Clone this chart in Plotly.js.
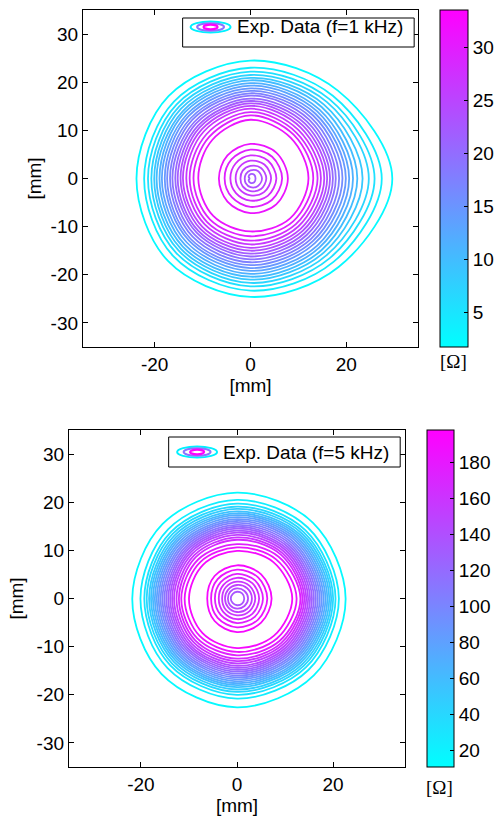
<!DOCTYPE html>
<html>
<head>
<meta charset="utf-8">
<script src="https://cdn.plot.ly/plotly-3.0.1.min.js"></script>
<style>html,body{margin:0;padding:0;background:#fff;}</style>
</head>
<body>
<div id="chart" style="width:498px;height:817px;"></div>
<script>
// ---------------- DATA ----------------
// Directions at which each contour radius was read (degrees): E, NE, N, NW, W, SW, S, SE
const dirAngles = [0, 45, 90, 135, 180, 225, 270, 315];

// f = 1 kHz : outer band of contours (levels in ohm, radii in mm)
const lev1Out = [2.5, 4, 5.5, 7, 8.5, 10, 11.5, 13, 14.5, 16, 17.5, 19, 20.5, 22, 23.5, 25, 26.5, 28, 29.5, 31];
const r1OutE  = [29.6, 27.4, 25.9, 24.7, 23.4, 22.3, 21.4, 20.6, 19.9, 19.2, 18.5, 17.8, 17.2, 16.6, 16.0, 15.4, 14.7, 14.0, 13.1, 12.1];
const r1OutNE = [25.8, 24.3, 23.3, 22.5, 21.7, 21.0, 20.3, 19.7, 19.1, 18.5, 17.9, 17.3, 16.7, 16.1, 15.5, 14.9, 14.2, 13.5, 12.8, 11.9];
const r1OutN  = [24.5, 23.0, 22.2, 21.5, 20.9, 20.4, 19.8, 19.3, 18.7, 18.2, 17.7, 17.2, 16.6, 16.1, 15.6, 15.1, 14.5, 13.8, 13.1, 12.2];
const r1OutNW = [24.2, 22.6, 21.8, 21.1, 20.5, 19.9, 19.4, 18.8, 18.3, 17.7, 17.2, 16.6, 16.1, 15.5, 15.0, 14.4, 13.8, 13.0, 12.2, 11.3];
const r1OutW  = [23.8, 22.2, 21.4, 20.7, 20.1, 19.6, 19.0, 18.5, 17.9, 17.4, 16.8, 16.3, 15.7, 15.2, 14.6, 14.1, 13.4, 12.7, 11.9, 10.9];
const r1OutSW = [24.3, 22.8, 21.9, 21.2, 20.6, 20.0, 19.4, 18.8, 18.2, 17.7, 17.1, 16.5, 15.9, 15.4, 14.8, 14.2, 13.5, 12.8, 12.0, 11.0];
const r1OutS  = [24.6, 23.3, 22.4, 21.7, 21.0, 20.4, 19.8, 19.2, 18.6, 18.0, 17.4, 16.8, 16.2, 15.6, 15.0, 14.4, 13.7, 12.9, 12.0, 11.0];
const r1OutSE = [26.0, 24.5, 23.4, 22.5, 21.7, 21.0, 20.3, 19.7, 19.0, 18.4, 17.8, 17.2, 16.6, 16.0, 15.4, 14.8, 14.1, 13.4, 12.6, 11.7];

// f = 1 kHz : inner cluster of contours
const lev1In = [31, 29.5, 28, 26.5, 25, 23.5, 22];
const r1InE  = [7.8, 6.6, 5.4, 4.3, 3.3, 2.4, 1.05];
const r1InNE = [7.6, 6.4, 5.2, 4.1, 3.1, 2.2, 1.1];
const r1InN  = [7.2, 6.0, 4.8, 3.7, 2.6, 1.7, 0.9];
const r1InNW = [6.8, 5.6, 4.4, 3.3, 2.3, 1.35, 0.55];
const r1InW  = [6.6, 5.4, 4.2, 3.1, 2.1, 1.2, 0.2];
const r1InSW = [6.8, 5.5, 4.3, 3.2, 2.3, 1.4, 0.55];
const r1InS  = [7.2, 5.9, 4.6, 3.5, 2.6, 1.8, 0.9];
const r1InSE = [7.6, 6.3, 5.1, 4.0, 3.1, 2.2, 1.1];

// f = 5 kHz : outer band of contours
const lev2Out = [15, 23, 31, 39, 47, 55, 63, 71, 79, 87, 95, 103, 111, 119, 127, 135, 143, 151, 159, 167, 175, 183, 191];
const r2OutE  = [22.6, 21.2, 20.5, 20.0, 19.6, 19.2, 18.8, 18.4, 18.0, 17.6, 17.2, 16.8, 16.4, 16.0, 15.6, 15.2, 14.8, 14.4, 14.0, 13.6, 13.2, 12.4, 11.5];
const r2OutNE = [22.3, 20.85, 20.1, 19.55, 19.1, 18.65, 18.25, 17.85, 17.45, 17.05, 16.65, 16.25, 15.85, 15.45, 15.05, 14.65, 14.25, 13.8, 13.35, 12.9, 12.25, 11.5, 10.7];
const r2OutN  = [22.0, 20.5, 19.7, 19.1, 18.6, 18.1, 17.7, 17.3, 16.9, 16.5, 16.1, 15.7, 15.3, 14.9, 14.5, 14.1, 13.7, 13.2, 12.7, 12.2, 11.3, 10.6, 9.9];
const r2OutNW = [21.9, 20.3, 19.5, 18.95, 18.45, 18.0, 17.6, 17.2, 16.8, 16.4, 16.0, 15.6, 15.2, 14.8, 14.4, 14.0, 13.6, 13.15, 12.65, 12.15, 11.45, 10.75, 9.95];
const r2OutW  = [21.8, 20.1, 19.3, 18.8, 18.3, 17.9, 17.5, 17.1, 16.7, 16.3, 15.9, 15.5, 15.1, 14.7, 14.3, 13.9, 13.5, 13.1, 12.6, 12.1, 11.6, 10.9, 10.0];
const r2OutSW = [22.2, 20.45, 19.65, 19.1, 18.6, 18.15, 17.75, 17.35, 16.95, 16.55, 16.15, 15.75, 15.35, 14.95, 14.55, 14.15, 13.75, 13.3, 12.8, 12.3, 11.7, 11.0, 10.15];
const r2OutS  = [22.6, 20.8, 20.0, 19.4, 18.9, 18.4, 18.0, 17.6, 17.2, 16.8, 16.4, 16.0, 15.6, 15.2, 14.8, 14.4, 14.0, 13.5, 13.0, 12.5, 11.8, 11.1, 10.3];
const r2OutSE = [22.6, 21.0, 20.25, 19.7, 19.25, 18.8, 18.4, 18.0, 17.6, 17.2, 16.8, 16.4, 16.0, 15.6, 15.2, 14.8, 14.4, 13.95, 13.5, 13.05, 12.5, 11.75, 10.9];

// f = 5 kHz : inner cluster of contours
const lev2In = [191, 183, 175, 167, 159, 151, 143, 135];
const r2InE  = [7.2, 6.3, 5.4, 4.6, 3.8, 3.1, 2.3, 1.5];
const r2InNE = [7.1, 6.2, 5.3, 4.5, 3.7, 3.0, 2.2, 1.5];
const r2InN  = [6.9, 6.0, 5.1, 4.3, 3.5, 2.8, 2.1, 1.4];
const r2InNW = [6.6, 5.7, 4.8, 4.0, 3.3, 2.6, 2.0, 1.3];
const r2InW  = [6.2, 5.4, 4.6, 3.8, 3.1, 2.5, 1.9, 1.3];
const r2InSW = [6.6, 5.7, 4.8, 4.0, 3.3, 2.6, 2.0, 1.3];
const r2InS  = [7.0, 6.0, 5.1, 4.3, 3.5, 2.8, 2.1, 1.4];
const r2InSE = [7.1, 6.2, 5.3, 4.5, 3.7, 3.0, 2.2, 1.5];

// colour-bar ranges and tick labels
const cRange1 = [1.7, 33.5];
const cRange2 = [10.6, 197.8];
const cTicks1 = [5, 10, 15, 20, 25, 30];
const cTicks2 = [20, 40, 60, 80, 100, 120, 140, 160, 180];
const axTickVals = [-30, -20, -10, 0, 10, 20, 30];
const axTickText = ['-30', '-20', '-10', '0', '10', '20', '30'];
const xTickVals = [-20, 0, 20];
const xTickText = ['-20', '0', '20'];
const legendText1 = 'Exp. Data (f=1 kHz)';
const legendText2 = 'Exp. Data (f=5 kHz)';

// ---------------- DRAWING ----------------
const W = 498, H = 817;
const FONT = 'Liberation Sans, Arial, Helvetica, sans-serif';
const FS = 19;
const coolScale = [[0, 'rgb(0,255,255)'], [1, 'rgb(255,0,255)']];
function coolColor(v, rng) {
  let t = (v - rng[0]) / (rng[1] - rng[0]);
  t = Math.max(0, Math.min(1, t));
  return 'rgb(' + Math.round(255 * t) + ',' + Math.round(255 * (1 - t)) + ',255)';
}
const px = v => v / W;
const py = v => 1 - v / H;

const traces = [];
function addRings(levels, dirs, rng, xa, ya) {
  for (let i = 0; i < levels.length; i++) {
    const xs = [], ys = [];
    for (let k = 0; k <= dirAngles.length; k++) {
      const kk = k % dirAngles.length;
      const r = dirs[kk][i];
      const a = dirAngles[kk] * Math.PI / 180;
      xs.push(r * Math.cos(a));
      ys.push(r * Math.sin(a));
    }
    traces.push({
      type: 'scatter', mode: 'lines', x: xs, y: ys, xaxis: xa, yaxis: ya,
      line: {color: coolColor(levels[i], rng), width: 1.8, shape: 'spline', smoothing: 1},
      hoverinfo: 'skip', showlegend: false
    });
  }
}
addRings(lev1Out, [r1OutE, r1OutNE, r1OutN, r1OutNW, r1OutW, r1OutSW, r1OutS, r1OutSE], cRange1, 'x', 'y');
addRings(lev1In,  [r1InE, r1InNE, r1InN, r1InNW, r1InW, r1InSW, r1InS, r1InSE], cRange1, 'x', 'y');
addRings(lev2Out, [r2OutE, r2OutNE, r2OutN, r2OutNW, r2OutW, r2OutSW, r2OutS, r2OutSE], cRange2, 'x2', 'y2');
addRings(lev2In,  [r2InE, r2InNE, r2InN, r2InNW, r2InW, r2InSW, r2InS, r2InSE], cRange2, 'x2', 'y2');

function cbTrace(rng, ticks, xa, ya, xLeft, yTop, yBot, thick) {
  return {
    type: 'scatter', mode: 'markers', x: [null], y: [null], xaxis: xa, yaxis: ya,
    hoverinfo: 'skip', showlegend: false,
    marker: {
      color: [rng[0]], cmin: rng[0], cmax: rng[1], colorscale: coolScale, showscale: true, opacity: 0,
      colorbar: {
        x: px(xLeft), xanchor: 'left', xpad: 0, ypad: 0,
        y: py(yTop), yanchor: 'top', len: yBot - yTop, lenmode: 'pixels',
        thickness: thick, thicknessmode: 'pixels',
        outlinewidth: 1, outlinecolor: '#000', borderwidth: 0,
        tickvals: ticks, ticktext: ticks.map(String), ticks: 'inside', ticklen: 4,
        tickcolor: '#000', tickwidth: 1,
        tickfont: {family: FONT, size: FS, color: '#000'}
      }
    }
  };
}
traces.unshift(cbTrace(cRange2, cTicks2, 'x2', 'y2', 427, 430, 767, 27));
traces.unshift(cbTrace(cRange1, cTicks1, 'x', 'y', 440, 10, 347, 28));

function axisX(domain, anchor) {
  return {
    domain: domain, anchor: anchor, range: [-35, 35], tickvals: xTickVals, ticktext: xTickText,
    ticks: 'inside', ticklen: 5, tickcolor: '#000', mirror: 'ticks', showline: true,
    linecolor: '#000', linewidth: 1, showgrid: false, zeroline: false,
    tickfont: {family: FONT, size: FS, color: '#000'},
    title: {text: '[mm]', font: {family: FONT, size: FS, color: '#000'}, standoff: 3}
  };
}
function axisY(domain, anchor, standoff) {
  return {
    domain: domain, anchor: anchor, range: [-35, 35], tickvals: axTickVals, ticktext: axTickText,
    ticks: 'inside', ticklen: 5, tickcolor: '#000', mirror: 'ticks', showline: true,
    linecolor: '#000', linewidth: 1, showgrid: false, zeroline: false,
    tickfont: {family: FONT, size: FS, color: '#000'},
    title: {text: '[mm]', font: {family: FONT, size: FS, color: '#000'}, standoff: standoff}
  };
}

function legendShapes(x0, x1, y0, y1, cx, cy) {
  return [
    {type: 'rect', xref: 'paper', yref: 'paper', x0: px(x0), x1: px(x1), y0: py(y1), y1: py(y0),
     line: {color: '#000', width: 1}, fillcolor: '#fff', layer: 'above'},
    {type: 'circle', xref: 'paper', yref: 'paper', x0: px(cx - 20), x1: px(cx + 20), y0: py(cy + 5.5), y1: py(cy - 5.5),
     line: {color: 'rgb(0,240,255)', width: 2}, layer: 'above'},
    {type: 'circle', xref: 'paper', yref: 'paper', x0: px(cx - 13.5), x1: px(cx + 13.5), y0: py(cy + 3.8), y1: py(cy - 3.8),
     line: {color: 'rgb(140,115,255)', width: 2}, layer: 'above'},
    {type: 'circle', xref: 'paper', yref: 'paper', x0: px(cx - 7), x1: px(cx + 7), y0: py(cy + 2.3), y1: py(cy - 2.3),
     line: {color: 'rgb(255,0,255)', width: 2.2}, layer: 'above'}
  ];
}

const layout = {
  width: W, height: H, margin: {l: 0, r: 0, t: 0, b: 0},
  paper_bgcolor: '#fff', plot_bgcolor: '#fff', showlegend: false,
  font: {family: FONT, size: FS, color: '#000'},
  xaxis: axisX([px(83), px(419)], 'y'),
  yaxis: axisY([py(347), py(10)], 'x', 3),
  xaxis2: axisX([px(69), px(406)], 'y2'),
  yaxis2: axisY([py(767), py(430)], 'x2', 7),
  shapes: [].concat(legendShapes(183, 415, 18, 47, 211, 27), legendShapes(169, 401, 437, 467, 197.5, 452)),
  annotations: [
    {xref: 'paper', yref: 'paper', x: px(235), y: py(27), xanchor: 'left', yanchor: 'middle', showarrow: false,
     text: legendText1, font: {family: FONT, size: FS, color: '#000'}},
    {xref: 'paper', yref: 'paper', x: px(221), y: py(452), xanchor: 'left', yanchor: 'middle', showarrow: false,
     text: legendText2, font: {family: FONT, size: FS, color: '#000'}},
    {xref: 'paper', yref: 'paper', x: px(454), y: py(362), xanchor: 'center', yanchor: 'middle', showarrow: false,
     text: '[Ω]', font: {family: 'Liberation Serif, Times New Roman, serif', size: FS, color: '#000'}},
    {xref: 'paper', yref: 'paper', x: px(440.5), y: py(787), xanchor: 'center', yanchor: 'middle', showarrow: false,
     text: '[Ω]', font: {family: 'Liberation Serif, Times New Roman, serif', size: FS, color: '#000'}}
  ]
};

Plotly.newPlot('chart', traces, layout, {displayModeBar: false, staticPlot: true});
</script>
</body>
</html>
